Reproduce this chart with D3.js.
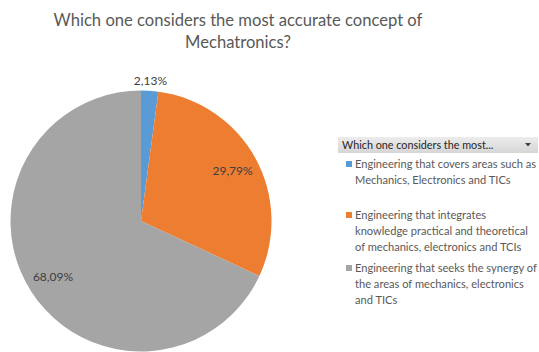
<!DOCTYPE html>
<html>
<head>
<meta charset="utf-8">
<script src="https://cdn.jsdelivr.net/npm/d3@7"></script>
<style>
  html, body { margin: 0; padding: 0; background: #fff; }
  svg { display: block; }
  text { font-family: Lato, "Open Sans", sans-serif; }
</style>
</head>
<body>
<svg id="chart" width="539" height="352"></svg>
<script>
// Survey answers (share of respondents, %)
const categories = [
  "Engineering that covers areas such as Mechanics, Electronics and TICs",
  "Engineering that integrates knowledge practical and theoretical of mechanics, electronics and TCIs",
  "Engineering that seeks the synergy of the areas of mechanics, electronics and TICs"
];
const values = [2.13, 29.79, 68.09];
const legendLines = [
  ["Engineering that covers areas such as", "Mechanics, Electronics and TICs"],
  ["Engineering that integrates", "knowledge practical and theoretical", "of mechanics, electronics and TCIs"],
  ["Engineering that seeks the synergy of", "the areas of mechanics, electronics", "and TICs"]
];
const titleLines = ["Which one considers the most accurate concept of", "Mechatronics?"];
const legendHeader = "Which one considers the most...";
const colors = ["#5B9BD5", "#ED7D31", "#A5A5A5"];

const svg = d3.select("#chart");
const fmt = v => d3.format(".2f")(v).replace(".", ",") + "%";

// Title
svg.append("g").selectAll("text")
  .data(titleLines)
  .join("text")
  .attr("x", 238)
  .attr("y", (d, i) => 26 + i * 22)
  .attr("text-anchor", "middle")
  .attr("font-size", 16.6)
  .attr("fill", "#595959")
  .text(d => d);

// Pie
const cx = 141, cy = 221, R = 130.5;
const pie = d3.pie().sort(null).value(d => d);
const arcs = pie(values);
const arc = d3.arc().innerRadius(0).outerRadius(R);
const g = svg.append("g").attr("transform", `translate(${cx},${cy})`);
g.selectAll("path")
  .data(arcs)
  .join("path")
  .attr("d", arc)
  .attr("fill", (d, i) => colors[i]);

// Data labels: inside for the large slices, just outside for the thin one
const labelRadius = d => (d.endAngle - d.startAngle) < 0.3 ? R * 1.08 : R * 0.8;
g.selectAll("text.lbl")
  .data(arcs)
  .join("text")
  .attr("class", "lbl")
  .attr("transform", d => {
    const a = (d.startAngle + d.endAngle) / 2;
    const r = labelRadius(d);
    return `translate(${Math.sin(a) * r},${-Math.cos(a) * r})`;
  })
  .attr("text-anchor", "middle")
  .attr("dy", "0.35em")
  .attr("font-size", 12)
  .attr("fill", "#404040")
  .text(d => fmt(d.data));

// Legend header bar
const lg = svg.append("g");
const hdrGrad = svg.append("defs").append("linearGradient")
  .attr("id", "hdr").attr("x1", 0).attr("x2", 0).attr("y1", 0).attr("y2", 1);
hdrGrad.append("stop").attr("offset", 0).attr("stop-color", "#ECECEC");
hdrGrad.append("stop").attr("offset", 1).attr("stop-color", "#D6D6D6");
lg.append("rect")
  .attr("x", 338).attr("y", 137).attr("width", 200).attr("height", 16)
  .attr("fill", "url(#hdr)");
lg.append("text")
  .attr("x", 342).attr("y", 149)
  .attr("font-size", 10.8)
  .attr("fill", "#262626")
  .text(legendHeader);
lg.append("path")
  .attr("d", "M525,143 L531,143 L528,146.5 Z")
  .attr("fill", "#404040");

// Legend entries
const itemTop = [168, 219, 272];
const items = lg.selectAll("g.item")
  .data(categories)
  .join("g")
  .attr("class", "item");
items.append("rect")
  .attr("x", 346)
  .attr("y", (d, i) => itemTop[i] - 7)
  .attr("width", 6).attr("height", 6)
  .attr("fill", (d, i) => colors[i]);
items.each(function(d, i) {
  d3.select(this).selectAll("text")
    .data(legendLines[i])
    .join("text")
    .attr("x", 355)
    .attr("y", (t, j) => itemTop[i] + j * 16)
    .attr("font-size", 11.1)
    .attr("fill", "#595959")
    .text(t => t);
});
</script>
</body>
</html>
